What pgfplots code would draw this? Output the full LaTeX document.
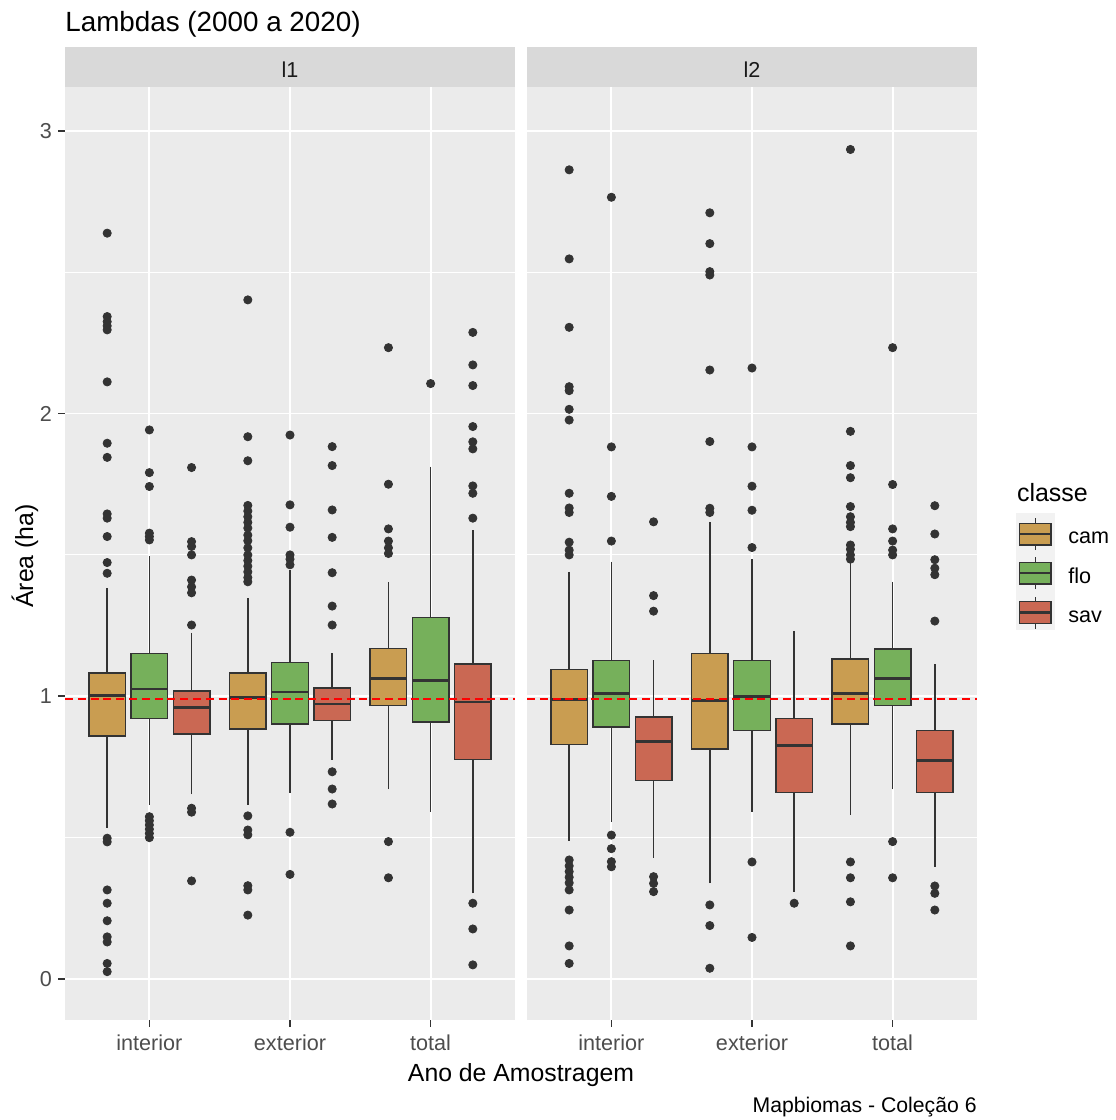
\documentclass[border=0pt]{standalone}
\usepackage{fontspec}
\setmainfont{Liberation Sans}
\usepackage{pgfplots}
\pgfplotsset{compat=1.18}
\usepgfplotslibrary{statistics}
\definecolor{gray92}{HTML}{EBEBEB}
\definecolor{gray85}{HTML}{D9D9D9}
\definecolor{gray20}{HTML}{333333}
\definecolor{gray30}{HTML}{4D4D4D}
\definecolor{gray10}{HTML}{1A1A1A}
\definecolor{gray95}{HTML}{F2F2F2}
\definecolor{cam}{HTML}{C99D51}
\definecolor{flo}{HTML}{76B05B}
\definecolor{sav}{HTML}{CA6853}

\newcommand{\bx}[7]{\addplot[boxplot prepared={draw direction=y, draw position=#1, lower whisker=#3, lower quartile=#4, median=#5, upper quartile=#6, upper whisker=#7, box extend=0.26, whisker extend=0}, draw=gray20, fill=#2, line width=0.7pt, boxplot/every median/.style={line width=1.4pt}, boxplot/every whisker/.style={line width=0.75pt}] coordinates {};}

\pgfplotsset{panel/.style={scale only axis, width=225pt, height=466.5pt, anchor=south west,
 xmin=0.4, xmax=3.6, ymin=-0.145, ymax=3.155,
 axis background/.style={fill=gray92}, axis line style={draw=none},
 xtick={1,2,3}, xticklabels={interior,exterior,total},
 ytick={0,1,2,3}, minor ytick={0.5,1.5,2.5},
 xmajorgrids, ymajorgrids, yminorgrids,
 major grid style={white, line width=0.9pt}, minor grid style={white, line width=0.5pt},
 tick align=outside, major tick length=3.3pt, minor tick length=0pt,
 tick style={gray20, line width=0.8pt}, xtick pos=bottom, ytick pos=left,
 ticklabel style={font=\fontsize{10.8}{12}\selectfont, text=gray30},
 /pgf/number format/assume math mode=true,
 xticklabel style={anchor=base, inner sep=0pt, yshift=-11.7pt},
 yticklabel style={anchor=east, inner sep=0pt, xshift=-3pt}}}

\begin{document}
\begin{tikzpicture}
\useasboundingbox (0,0) rectangle (557.5pt,560pt);
% strips
\fill[gray85] (32.5pt,516.5pt) rectangle (257.5pt,536.5pt);
\fill[gray85] (263.5pt,516.5pt) rectangle (488.5pt,536.5pt);
\node[anchor=base, inner sep=0pt, font=\fontsize{10.8}{12}\selectfont, text=gray10] at (145pt,521.3pt) {l1};
\node[anchor=base, inner sep=0pt, font=\fontsize{10.8}{12}\selectfont, text=gray10] at (376pt,521.3pt) {l2};

\begin{axis}[panel, at={(32.5pt,50pt)}]
\bx{0.7}{cam}{0.533}{0.860}{1.002}{1.083}{1.382}
\bx{1.0}{flo}{0.616}{0.921}{1.026}{1.151}{1.496}
\bx{1.3}{sav}{0.653}{0.866}{0.960}{1.018}{1.225}
\bx{1.7}{cam}{0.616}{0.884}{0.995}{1.083}{1.346}
\bx{2.0}{flo}{0.659}{0.902}{1.015}{1.120}{1.447}
\bx{2.3}{sav}{0.775}{0.914}{0.973}{1.029}{1.152}
\bx{2.7}{cam}{0.671}{0.968}{1.062}{1.168}{1.405}
\bx{3.0}{flo}{0.592}{0.909}{1.057}{1.278}{1.812}
\bx{3.3}{sav}{0.303}{0.777}{0.980}{1.114}{1.588}
\addplot[only marks, mark=*, mark size=2.05pt, gray20] coordinates {
(0.7,2.638)(0.7,2.343)(0.7,2.325)(0.7,2.31)(0.7,2.296)(0.7,2.112)(0.7,1.895)(0.7,1.845)(0.7,1.645)(0.7,1.63)(0.7,1.565)(0.7,1.473)(0.7,1.435)(0.7,0.498)(0.7,0.485)(0.7,0.315)(0.7,0.268)(0.7,0.206)(0.7,0.149)(0.7,0.131)(0.7,0.055)(0.7,0.026)
(1,1.942)(1,1.791)(1,1.742)(1,1.577)(1,1.565)(1,1.553)(1,0.574)(1,0.56)(1,0.545)(1,0.53)(1,0.515)(1,0.50)
(1.3,1.809)(1.3,1.547)(1.3,1.53)(1.3,1.50)(1.3,1.411)(1.3,1.387)(1.3,1.366)(1.3,1.252)(1.3,0.604)(1.3,0.59)(1.3,0.347)
(1.7,2.402)(1.7,1.918)(1.7,1.833)(1.7,1.675)(1.7,1.655)(1.7,1.635)(1.7,1.615)(1.7,1.595)(1.7,1.57)(1.7,1.55)(1.7,1.525)(1.7,1.50)(1.7,1.48)(1.7,1.46)(1.7,1.44)(1.7,1.42)(1.7,1.405)(1.7,0.577)(1.7,0.527)(1.7,0.51)(1.7,0.33)(1.7,0.315)(1.7,0.226)
(2,1.924)(2,1.677)(2,1.598)(2,1.50)(2,1.485)(2,1.465)(2,0.519)(2,0.370)
(2.3,1.883)(2.3,1.816)(2.3,1.659)(2.3,1.562)(2.3,1.437)(2.3,1.319)(2.3,1.252)(2.3,0.733)(2.3,0.672)(2.3,0.619)
(2.7,2.233)(2.7,1.750)(2.7,1.592)(2.7,1.549)(2.7,1.525)(2.7,1.505)(2.7,0.486)(2.7,0.358)
(3,2.106)
(3.3,2.287)(3.3,2.172)(3.3,2.099)(3.3,1.954)(3.3,1.90)(3.3,1.875)(3.3,1.744)(3.3,1.718)(3.3,1.63)(3.3,0.268)(3.3,0.177)(3.3,0.050)
};
\addplot[red, line width=0.7pt, dash pattern=on 4pt off 2.4pt] coordinates {(0.4,0.99) (3.6,0.99)};
\end{axis}

\begin{axis}[panel, at={(263.5pt,50pt)}, yticklabels={}, ytick style={draw=none}]
\bx{0.7}{cam}{0.489}{0.829}{0.990}{1.095}{1.441}
\bx{1.0}{flo}{0.557}{0.891}{1.009}{1.126}{1.476}
\bx{1.3}{sav}{0.429}{0.703}{0.839}{0.927}{1.127}
\bx{1.7}{cam}{0.338}{0.813}{0.985}{1.151}{1.618}
\bx{2.0}{flo}{0.592}{0.878}{0.998}{1.127}{1.486}
\bx{2.3}{sav}{0.307}{0.660}{0.827}{0.921}{1.231}
\bx{2.7}{cam}{0.580}{0.902}{1.011}{1.132}{1.476}
\bx{3.0}{flo}{0.671}{0.968}{1.062}{1.167}{1.405}
\bx{3.3}{sav}{0.397}{0.660}{0.772}{0.880}{1.115}
\addplot[only marks, mark=*, mark size=2.05pt, gray20] coordinates {
(0.7,2.862)(0.7,2.547)(0.7,2.305)(0.7,2.095)(0.7,2.081)(0.7,2.015)(0.7,1.977)(0.7,1.718)(0.7,1.666)(0.7,1.65)(0.7,1.545)(0.7,1.517)(0.7,1.50)(0.7,0.421)(0.7,0.40)(0.7,0.38)(0.7,0.36)(0.7,0.34)(0.7,0.315)(0.7,0.244)(0.7,0.117)(0.7,0.055)
(1,2.765)(1,1.882)(1,1.707)(1,1.549)(1,0.509)(1,0.461)(1,0.415)(1,0.397)
(1.3,1.617)(1.3,1.356)(1.3,1.301)(1.3,0.362)(1.3,0.338)(1.3,0.309)
(1.7,2.710)(1.7,2.601)(1.7,2.502)(1.7,2.49)(1.7,2.154)(1.7,1.901)(1.7,1.665)(1.7,1.65)(1.7,0.262)(1.7,0.189)(1.7,0.038)
(2,2.161)(2,1.882)(2,1.743)(2,1.658)(2,1.526)(2,0.414)(2,0.147)
(2.3,0.268)
(2.7,2.934)(2.7,1.937)(2.7,1.816)(2.7,1.773)(2.7,1.671)(2.7,1.635)(2.7,1.615)(2.7,1.60)(2.7,1.535)(2.7,1.52)(2.7,1.50)(2.7,1.485)(2.7,0.414)(2.7,0.358)(2.7,0.273)(2.7,0.117)
(3,2.233)(3,1.749)(3,1.592)(3,1.549)(3,1.517)(3,1.50)(3,0.486)(3,0.358)
(3.3,1.674)(3.3,1.574)(3.3,1.483)(3.3,1.453)(3.3,1.43)(3.3,1.266)(3.3,0.329)(3.3,0.303)(3.3,0.244)
};
\addplot[red, line width=0.7pt, dash pattern=on 4pt off 2.4pt] coordinates {(0.4,0.99) (3.6,0.99)};
\end{axis}

% titles
\node[anchor=base west, inner sep=0pt, font=\fontsize{13.9}{16}\selectfont] at (32.5pt,544pt) {Lambdas (2000 a 2020)};
\node[anchor=base, inner sep=0pt, font=\fontsize{12.4}{14}\selectfont] at (260.5pt,19.5pt) {Ano de Amostragem};
\node[rotate=90, anchor=base, inner sep=0pt, font=\fontsize{12.4}{14}\selectfont] at (16.5pt,282pt) {Área (ha)};
\node[anchor=base east, inner sep=0pt, font=\fontsize{10.6}{12}\selectfont] at (488.5pt,3.5pt) {Mapbiomas - Coleção 6};

% legend
\node[anchor=base west, inner sep=0pt, font=\fontsize{12.5}{14}\selectfont] at (508.3pt,309.2pt) {classe};
\fill[gray95] (508pt,245pt) rectangle (527.5pt,303.7pt);
\foreach \cy/\cc/\lab in {292.9/cam/cam, 273.3/flo/flo, 253.7/sav/sav}{
  \draw[gray20, line width=0.7pt] (517.6pt,\cy pt-8pt) -- (517.6pt,\cy pt+8pt);
  \filldraw[fill=\cc, draw=gray20, line width=0.7pt] (509.7pt,\cy pt-5.4pt) rectangle (525.5pt,\cy pt+5.4pt);
  \draw[gray20, line width=1.1pt] (509.7pt,\cy pt) -- (525.5pt,\cy pt);
  \node[anchor=base west, inner sep=0pt, font=\fontsize{10.8}{12}\selectfont, text=black] at (534pt,\cy pt-4.9pt) {\lab};
}
\end{tikzpicture}
\end{document}
